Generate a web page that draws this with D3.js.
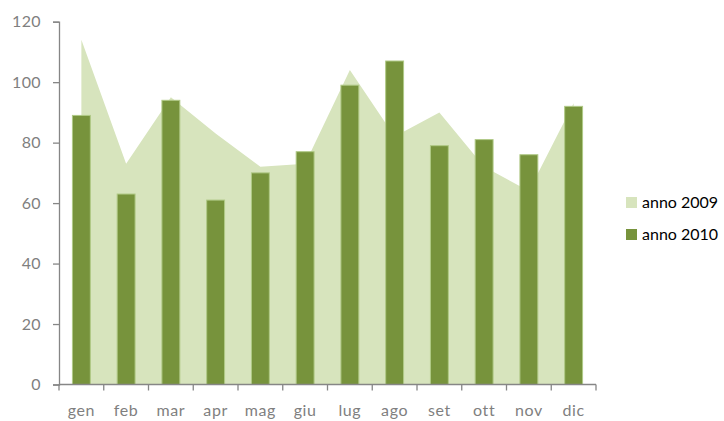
<!DOCTYPE html>
<html>
<head>
<meta charset="utf-8">
<script src="https://cdn.jsdelivr.net/npm/d3@7"></script>
<style>
  html, body { margin: 0; padding: 0; background: #fff; }
  svg { display: block; font-family: Lato, "Open Sans", sans-serif; }
</style>
</head>
<body>
<svg id="chart" width="724" height="421"></svg>
<script>
// Monthly values, two years
const months = ["gen", "feb", "mar", "apr", "mag", "giu", "lug", "ago", "set", "ott", "nov", "dic"];
const values2009 = [114, 73, 95, 83, 72, 73, 104, 82, 90, 72, 64, 93];
const values2010 = [89, 63, 94, 61, 70, 77, 99, 107, 79, 81, 76, 92];
const yTicks = [0, 20, 40, 60, 80, 100, 120];
const seriesNames = ["anno 2009", "anno 2010"];

const colors = { area: "#D7E4BD", bar: "#77933C", barEdge: "#B0C986", axis: "#868686", label: "#7F7F7F" };
const fontSize = "16px";

const svg = d3.select("#chart");
const plot = { left: 59, right: 596, top: 21.7, bottom: 384.5 };

const x = d3.scaleBand()
  .domain(months)
  .range([plot.left, plot.right])
  .paddingInner(0.6)
  .paddingOuter(0.3);

const y = d3.scaleLinear()
  .domain([0, 120])
  .range([plot.bottom, plot.top]);

const cx = m => x(m) + x.bandwidth() / 2;

// 2009 as a filled area through the month centres
const area = d3.area()
  .x((d, i) => cx(months[i]))
  .y0(y(0))
  .y1(d => y(d));

svg.append("path")
  .datum(values2009)
  .attr("d", area)
  .attr("fill", colors.area);

// 2010 as columns
svg.append("g")
  .selectAll("rect")
  .data(values2010)
  .join("rect")
  .attr("x", (d, i) => x(months[i]))
  .attr("y", d => y(d))
  .attr("width", x.bandwidth())
  .attr("height", d => y(0) - y(d))
  .attr("fill", colors.bar)
  .attr("stroke", colors.barEdge)
  .attr("stroke-width", 1);

// Y axis
const yAxis = svg.append("g")
  .attr("transform", `translate(${plot.left},0)`)
  .call(d3.axisLeft(y).tickValues(yTicks).tickSize(6).tickPadding(12));
yAxis.select(".domain").attr("stroke", colors.axis).attr("stroke-width", 1.3);
yAxis.selectAll(".tick line").attr("stroke", colors.axis).attr("stroke-width", 1.3);
yAxis.selectAll(".tick text")
  .attr("fill", colors.label)
  .style("font-size", fontSize)
  .style("letter-spacing", "0.4px")
  .style("font-family", "Lato, 'Open Sans', sans-serif");

// X axis: tick marks on category boundaries, labels under each month
const boundaries = d3.range(months.length + 1).map(i => plot.left + i * x.step());
const xAxis = svg.append("g").attr("transform", `translate(0,${plot.bottom})`);
xAxis.append("line")
  .attr("x1", plot.left).attr("x2", plot.right)
  .attr("stroke", colors.axis).attr("stroke-width", 1.3);
xAxis.selectAll("line.tk")
  .data(boundaries)
  .join("line")
  .attr("class", "tk")
  .attr("x1", d => d).attr("x2", d => d)
  .attr("y1", 0).attr("y2", 6)
  .attr("stroke", colors.axis).attr("stroke-width", 1.3);
xAxis.selectAll("text")
  .data(months)
  .join("text")
  .attr("x", d => cx(d))
  .attr("y", 31.5)
  .attr("text-anchor", "middle")
  .attr("fill", colors.label)
  .style("font-size", fontSize)
  .style("letter-spacing", "0.6px")
  .text(d => d);

// Legend
const legend = svg.append("g").attr("transform", "translate(626,197)");
const legendColors = [colors.area, colors.bar];
seriesNames.forEach((name, i) => {
  const g = legend.append("g").attr("transform", `translate(0,${i * 32})`);
  g.append("rect").attr("width", 11).attr("height", 11).attr("fill", legendColors[i]);
  g.append("text")
    .attr("x", 16).attr("y", 11)
    .attr("fill", "#000")
    .style("font-size", fontSize)
    .text(name);
});
</script>
</body>
</html>
